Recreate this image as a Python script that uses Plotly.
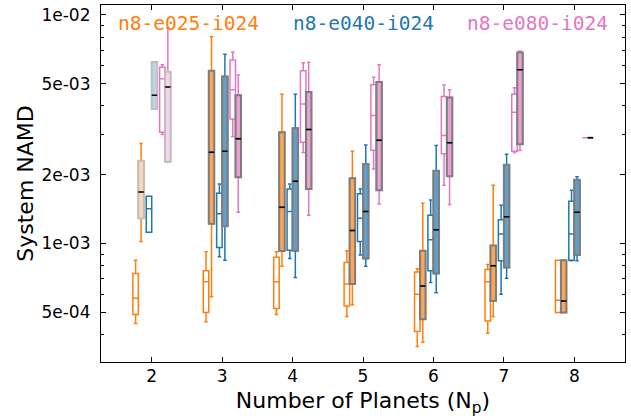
import plotly.graph_objects as go

# ---------------- data ----------------
N_PLANETS = [2, 3, 4, 5, 6, 7, 8]
CONFIGS = ["n8-e025-i024", "n8-e040-i024", "n8-e080-i024"]
COLORS = {"n8-e025-i024": (255, 127, 14), "n8-e040-i024": (31, 119, 180), "n8-e080-i024": (227, 119, 194)}

# stats per N: lower whisker, q1, median, q3, upper whisker
# "open" = hollow boxes, "filled" = shaded boxes
E025_OPEN_LO = [4.47e-4, 4.55e-4, 4.90e-4, 4.80e-4, 3.55e-4, 4.05e-4, 5.00e-4]
E025_OPEN_Q1 = [4.90e-4, 5.00e-4, 5.20e-4, 5.33e-4, 4.12e-4, 4.58e-4, 5.00e-4]
E025_OPEN_MED = [5.76e-4, 6.80e-4, 6.80e-4, 6.65e-4, 6.00e-4, 6.80e-4, 5.65e-4]
E025_OPEN_Q3 = [7.40e-4, 7.60e-4, 8.70e-4, 8.27e-4, 7.50e-4, 7.70e-4, 8.45e-4]
E025_OPEN_HI = [8.45e-4, 9.20e-4, 9.20e-4, 9.30e-4, 7.75e-4, 8.10e-4, 8.45e-4]

E025_FILL_LO = [1.02e-3, 5.85e-4, 7.95e-4, 5.40e-4, 3.70e-4, 4.80e-4, 5.00e-4]
E025_FILL_Q1 = [1.29e-3, 1.22e-3, 9.27e-4, 6.65e-4, 4.66e-4, 5.60e-4, 5.00e-4]
E025_FILL_MED = [1.68e-3, 2.51e-3, 1.44e-3, 1.14e-3, 6.52e-4, 8.00e-4, 5.60e-4]
E025_FILL_Q3 = [2.30e-3, 5.70e-3, 3.07e-3, 1.93e-3, 9.30e-4, 9.80e-4, 8.45e-4]
E025_FILL_HI = [2.74e-3, 8.03e-3, 4.50e-3, 2.53e-3, 1.50e-3, 1.80e-3, 8.45e-4]

E040_OPEN_LO = [1.12e-3, 8.75e-4, 8.60e-4, 8.90e-4, 6.75e-4, 6.00e-4, 8.40e-4]
E040_OPEN_Q1 = [1.12e-3, 9.60e-4, 9.35e-4, 1.02e-3, 7.60e-4, 8.40e-4, 8.45e-4]
E040_OPEN_MED = [1.42e-3, 1.35e-3, 1.38e-3, 1.29e-3, 1.04e-3, 1.10e-3, 1.10e-3]
E040_OPEN_Q3 = [1.61e-3, 1.66e-3, 1.73e-3, 1.65e-3, 1.33e-3, 1.27e-3, 1.53e-3]
E040_OPEN_HI = [1.61e-3, 1.82e-3, 1.82e-3, 1.73e-3, 1.55e-3, 1.47e-3, 1.71e-3]

E040_FILL_LO = [3.87e-3, 8.45e-4, 7.10e-4, 7.95e-4, 6.10e-4, 7.05e-4, 8.40e-4]
E040_FILL_Q1 = [3.87e-3, 1.19e-3, 9.30e-4, 8.60e-4, 7.40e-4, 7.85e-4, 8.90e-4]
E040_FILL_MED = [4.45e-3, 2.53e-3, 1.87e-3, 1.38e-3, 1.15e-3, 1.31e-3, 1.37e-3]
E040_FILL_Q3 = [6.20e-3, 5.37e-3, 3.19e-3, 2.23e-3, 2.08e-3, 2.21e-3, 1.90e-3]
E040_FILL_HI = [6.20e-3, 6.73e-3, 4.50e-3, 2.70e-3, 2.68e-3, 2.46e-3, 1.96e-3]

E080_OPEN_LO = [3.00e-3, 2.94e-3, 2.50e-3, 2.12e-3, 1.80e-3, 2.50e-3, 2.90e-3]
E080_OPEN_Q1 = [3.07e-3, 3.50e-3, 2.77e-3, 2.56e-3, 2.47e-3, 2.53e-3, 2.90e-3]
E080_OPEN_MED = [5.25e-3, 4.70e-3, 4.07e-3, 3.63e-3, 2.97e-3, 3.75e-3, 2.90e-3]
E080_OPEN_Q3 = [5.90e-3, 6.34e-3, 5.70e-3, 4.95e-3, 4.40e-3, 4.50e-3, 2.90e-3]
E080_OPEN_HI = [6.05e-3, 6.88e-3, 6.17e-3, 5.33e-3, 4.93e-3, 4.80e-3, 2.90e-3]

E080_FILL_LO = [2.27e-3, 1.37e-3, 1.33e-3, 1.49e-3, 1.48e-3, 2.55e-3, 2.90e-3]
E080_FILL_Q1 = [2.28e-3, 1.95e-3, 1.73e-3, 1.71e-3, 1.97e-3, 2.72e-3, 2.90e-3]
E080_FILL_MED = [4.83e-3, 2.87e-3, 3.15e-3, 2.83e-3, 2.76e-3, 5.75e-3, 2.90e-3]
E080_FILL_Q3 = [5.64e-3, 4.45e-3, 4.60e-3, 5.08e-3, 4.35e-3, 6.85e-3, 2.90e-3]
E080_FILL_HI = [8.75e-3, 5.45e-3, 6.20e-3, 6.05e-3, 4.70e-3, 6.95e-3, 2.90e-3]

Y_TICKS = [1e-2, 5e-3, 2e-3, 1e-3, 5e-4]
Y_TICK_TEXT = ["1e-02", "5e-03", "2e-03", "1e-03", "5e-04"]
Y_MINOR = [4e-4, 6e-4, 7e-4, 8e-4, 9e-4, 3e-3, 4e-3, 6e-3, 7e-3, 8e-3, 9e-3]

DATA = {
    "n8-e025-i024": {
        "open": (E025_OPEN_LO, E025_OPEN_Q1, E025_OPEN_MED, E025_OPEN_Q3, E025_OPEN_HI),
        "filled": (E025_FILL_LO, E025_FILL_Q1, E025_FILL_MED, E025_FILL_Q3, E025_FILL_HI),
    },
    "n8-e040-i024": {
        "open": (E040_OPEN_LO, E040_OPEN_Q1, E040_OPEN_MED, E040_OPEN_Q3, E040_OPEN_HI),
        "filled": (E040_FILL_LO, E040_FILL_Q1, E040_FILL_MED, E040_FILL_Q3, E040_FILL_HI),
    },
    "n8-e080-i024": {
        "open": (E080_OPEN_LO, E080_OPEN_Q1, E080_OPEN_MED, E080_OPEN_Q3, E080_OPEN_HI),
        "filled": (E080_FILL_LO, E080_FILL_Q1, E080_FILL_MED, E080_FILL_Q3, E080_FILL_HI),
    },
}

# ---------------- style ----------------
GROUP_OFFSET = {"n8-e025-i024": -0.19, "n8-e040-i024": 0.0, "n8-e080-i024": 0.19}
PAIR_SHIFT = 0.039
BOX_W = 0.078
WHISK_W = 0.65


def rgba(c, a):
    return f"rgba({c[0]},{c[1]},{c[2]},{a})"


def blend(c, a, bg=(255, 255, 255)):
    return "rgb({},{},{})".format(*[round(a * c[k] + (1 - a) * bg[k]) for k in range(3)])


fig = go.Figure()

for cfg in CONFIGS:
    col = COLORS[cfg]
    lo, q1, med, q3, hi = DATA[cfg]["open"]
    xs = [n + GROUP_OFFSET[cfg] - PAIR_SHIFT for n in N_PLANETS]
    fig.add_trace(go.Box(
        x=xs, q1=q1, median=med, q3=q3, lowerfence=lo, upperfence=hi,
        width=BOX_W, whiskerwidth=WHISK_W, boxpoints=False,
        fillcolor="rgba(255,255,255,1)", line=dict(color=rgba(col, 1), width=1.5),
        showlegend=False, hoverinfo="skip"))

    lo, q1, med, q3, hi = DATA[cfg]["filled"]
    for i, n in enumerate(N_PLANETS):
        alpha = 0.3 if n == 2 else 0.7
        edge = "rgb(192,192,192)" if n == 2 else "rgb(125,125,125)"
        x = [n + GROUP_OFFSET[cfg] + PAIR_SHIFT]
        # coloured whiskers
        fig.add_trace(go.Box(
            x=x, q1=[q1[i]], median=[med[i]], q3=[q3[i]], lowerfence=[lo[i]], upperfence=[hi[i]],
            width=BOX_W, whiskerwidth=WHISK_W, boxpoints=False,
            fillcolor="rgba(0,0,0,0)", line=dict(color=rgba(col, 1), width=1.5),
            showlegend=False, hoverinfo="skip"))
        # shaded box with grey edge
        fig.add_trace(go.Box(
            x=x, q1=[q1[i]], median=[med[i]], q3=[q3[i]], lowerfence=[q1[i]], upperfence=[q3[i]],
            width=BOX_W, whiskerwidth=0, boxpoints=False,
            fillcolor=blend(col, alpha), line=dict(color=edge, width=2),
            showlegend=False, hoverinfo="skip"))
        # black median
        fig.add_trace(go.Box(
            x=x, q1=[med[i]], median=[med[i]], q3=[med[i]], lowerfence=[med[i]], upperfence=[med[i]],
            width=BOX_W, whiskerwidth=0, boxpoints=False,
            fillcolor="rgba(0,0,0,0)", line=dict(color="black", width=1.5),
            showlegend=False, hoverinfo="skip"))

for cfg, xpos in zip(CONFIGS, [1 / 6, 0.5, 5 / 6]):
    fig.add_annotation(
        x=xpos, y=0.947, xref="paper", yref="paper", text=cfg, showarrow=False,
        xanchor="center", yanchor="middle",
        font=dict(family="DejaVu Sans Mono", size=19.5, color=rgba(COLORS[cfg], 1)))

axis_common = dict(
    showline=True, linecolor="black", linewidth=1.2, mirror="ticks",
    ticks="inside", tickcolor="black", tickwidth=1.1, ticklen=5,
    showgrid=False, zeroline=False,
    tickfont=dict(family="DejaVu Sans", size=17, color="black"),
)

fig.update_layout(
    width=631, height=418,
    margin=dict(l=101, r=6, t=5, b=56),
    paper_bgcolor="white", plot_bgcolor="white",
    boxmode="overlay",
    showlegend=False,
    xaxis=dict(
        range=[1.28, 8.72], tickvals=N_PLANETS, ticktext=[str(n) for n in N_PLANETS],
        title=dict(text="Number of Planets (N<sub>p</sub>)",
                   font=dict(family="DejaVu Sans", size=22, color="black"), standoff=8),
        ticklabelstandoff=-2,
        **axis_common),
    yaxis=dict(
        type="log", range=[-3.518, -1.957], tickvals=Y_TICKS, ticktext=Y_TICK_TEXT,
        minor=dict(tickvals=Y_MINOR, ticks="inside", ticklen=3, tickcolor="black", tickwidth=1),
        title=dict(text="System NAMD", font=dict(family="DejaVu Sans", size=22, color="black"), standoff=1),
        ticklabelstandoff=6,
        **axis_common),
)

fig.write_html("out.html")
